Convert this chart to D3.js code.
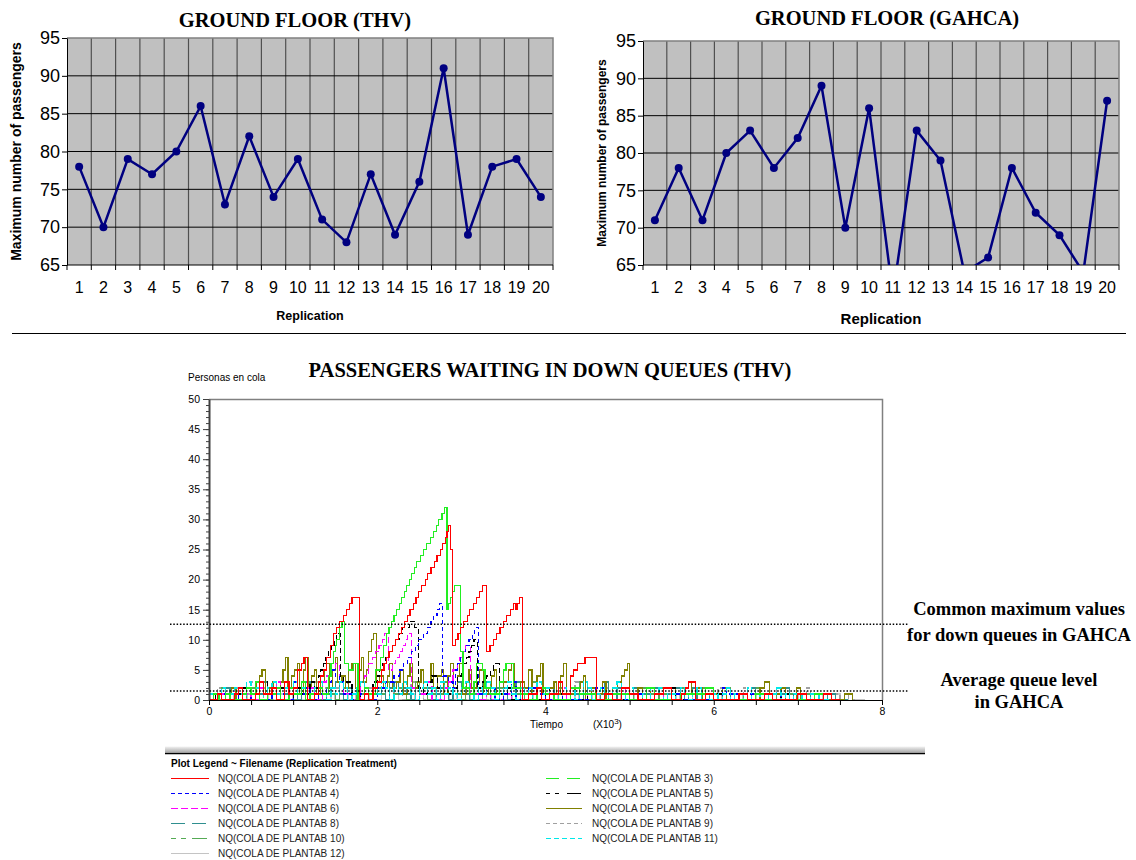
<!DOCTYPE html>
<html>
<head>
<meta charset="utf-8">
<script src="https://cdn.jsdelivr.net/npm/d3@7"></script>
<style>
body { margin: 0; background: #fff; }
</style>
</head>
<body>
<div class="svg-container"></div>
<script>
//top charts: maximum number of passengers per replication
const replications = [1,2,3,4,5,6,7,8,9,10,11,12,13,14,15,16,17,18,19,20];
const thvMax = [78,70,79,77,80,86,73,82,74,79,71,68,77,69,76,91,69,78,79,74];
const gahcaMax = [71,78,71,80,83,78,82,89,70,86,61,83,79,64,66,78,72,69,64,87];
const topYTicks = [65,70,75,80,85,90,95];

//bottom chart: queue length (personas en cola) vs tiempo (x10^3), step series as [tiempo, cola]
const nq2 = [[0,0],[0.1,1],[0.15,0],[0.3,1],[0.35,2],[0.4,0],[0.55,1],[0.6,3],[0.65,1],[0.75,2],[0.8,0],[0.9,3],[0.95,1],[1.0,2],[1.05,5],[1.1,6],[1.13,7],[1.17,0],[1.25,1],[1.3,3],[1.33,4],[1.36,5],[1.4,7],[1.44,9],[1.48,11],[1.52,12],[1.55,13],[1.6,14],[1.63,15],[1.67,16],[1.7,17],[1.79,0],[1.85,1],[1.9,0],[1.95,2],[2.0,3],[2.05,5],[2.08,6],[2.11,7],[2.14,8],[2.18,9],[2.22,10],[2.25,11],[2.29,12],[2.32,13],[2.36,14],[2.39,15],[2.43,16],[2.46,17],[2.49,18],[2.53,19],[2.57,20],[2.6,21],[2.64,22],[2.68,23],[2.71,24],[2.75,25],[2.78,26],[2.81,27],[2.83,28],[2.85,29],[2.87,25],[2.89,9],[2.93,10],[2.96,11],[2.99,12],[3.03,13],[3.07,14],[3.1,15],[3.14,16],[3.18,17],[3.22,18],[3.25,19],[3.3,8],[3.34,9],[3.38,10],[3.42,11],[3.46,12],[3.5,13],[3.54,14],[3.58,15],[3.62,16],[3.65,15],[3.67,16],[3.69,17],[3.73,0],[3.8,1],[3.9,2],[3.95,0],[4.05,1],[4.15,3],[4.2,1],[4.3,4],[4.33,5],[4.38,6],[4.47,7],[4.61,0],[4.7,1],[4.8,0],[4.9,2],[5.0,1],[5.1,0],[5.3,1],[5.4,2],[5.5,0],[5.62,1],[5.66,2],[5.7,3],[5.78,0],[5.9,1],[6.0,0],[6.3,1],[6.4,0],[6.6,1],[6.7,0],[7.0,1],[7.1,0],[7.3,1],[7.4,0],[7.5,0]];
const nq3 = [[0,0],[0.05,1],[0.12,0],[0.2,1],[0.25,0],[0.4,1],[0.45,2],[0.5,1],[0.55,3],[0.6,0],[0.7,1],[0.8,2],[0.85,0],[0.95,2],[1.0,1],[1.1,3],[1.15,0],[1.2,1],[1.3,2],[1.35,1],[1.42,4],[1.45,6],[1.48,8],[1.5,9],[1.52,10],[1.55,12],[1.58,13],[1.61,6],[1.66,5],[1.72,6],[1.77,0],[1.85,2],[1.9,1],[1.98,5],[2.04,7],[2.07,9],[2.11,11],[2.14,12],[2.17,13],[2.2,14],[2.23,15],[2.26,16],[2.29,17],[2.32,18],[2.35,19],[2.38,20],[2.41,21],[2.44,22],[2.47,23],[2.51,24],[2.55,25],[2.59,26],[2.63,27],[2.67,28],[2.7,29],[2.73,30],[2.77,31],[2.8,32],[2.83,15],[2.85,16],[2.87,17],[2.89,18],[2.92,19],[2.99,8],[3.02,2],[3.1,1],[3.15,3],[3.18,6],[3.25,5],[3.28,2],[3.35,1],[3.45,3],[3.5,5],[3.53,6],[3.62,2],[3.7,1],[3.8,0],[3.9,2],[4.0,1],[4.1,0],[4.3,2],[4.4,1],[4.6,0],[4.8,1],[5.0,0],[5.2,2],[5.3,0],[5.6,1],[5.9,2],[6.0,0],[6.5,1],[6.6,0],[7.2,1],[7.3,0]];
const nq4 = [[0,0],[0.1,1],[0.2,0],[0.35,2],[0.4,0],[0.5,1],[0.6,0],[0.75,2],[0.8,1],[0.9,0],[1.0,3],[1.05,1],[1.15,2],[1.2,0],[1.3,1],[1.4,2],[1.42,3],[1.46,5],[1.5,4],[1.55,3],[1.6,1],[1.7,0],[1.8,1],[1.9,0],[2.0,2],[2.1,3],[2.2,4],[2.26,5],[2.31,6],[2.36,7],[2.41,8],[2.45,9],[2.49,10],[2.55,11],[2.6,12],[2.64,13],[2.67,14],[2.71,15],[2.74,16],[2.78,4],[2.85,3],[2.9,2],[2.93,5],[2.95,6],[2.99,7],[3.02,8],[3.05,9],[3.09,10],[3.13,11],[3.16,12],[3.2,1],[3.3,2],[3.4,0],[3.5,1],[3.6,3],[3.65,0],[3.8,2],[3.9,1],[4.0,0],[4.2,1],[4.3,0],[4.6,2],[4.7,0],[5.1,1],[5.2,0],[5.5,1],[5.6,0],[6.1,2],[6.15,1],[6.5,0],[6.7,1],[6.8,0],[7.3,1],[7.4,0]];
const nq5 = [[0,0],[0.08,1],[0.15,0],[0.3,1],[0.4,2],[0.45,0],[0.55,1],[0.65,3],[0.7,1],[0.85,2],[0.9,0],[1.0,2],[1.1,1],[1.2,3],[1.25,2],[1.3,4],[1.33,5],[1.36,6],[1.39,7],[1.42,8],[1.45,9],[1.49,10],[1.52,11],[1.56,4],[1.6,3],[1.7,1],[1.8,0],[1.9,2],[1.95,3],[2.0,4],[2.03,5],[2.06,6],[2.1,7],[2.14,8],[2.18,9],[2.22,10],[2.26,11],[2.3,12],[2.38,13],[2.44,12],[2.49,2],[2.55,1],[2.6,3],[2.65,4],[2.72,2],[2.8,1],[2.9,2],[2.95,4],[3.0,5],[3.03,6],[3.06,7],[3.09,8],[3.12,9],[3.15,10],[3.19,2],[3.25,3],[3.3,4],[3.35,5],[3.38,6],[3.45,1],[3.55,2],[3.6,0],[3.7,1],[3.8,0],[4.0,2],[4.05,1],[4.3,0],[4.5,1],[4.6,0],[5.0,1],[5.1,0],[5.5,2],[5.55,0],[6.0,1],[6.1,0],[6.8,1],[6.9,0]];
const nq6 = [[0,0],[0.1,1],[0.2,0],[0.3,2],[0.35,1],[0.5,0],[0.6,2],[0.65,1],[0.8,3],[0.85,0],[1.0,1],[1.1,3],[1.15,2],[1.25,0],[1.35,3],[1.4,4],[1.45,5],[1.5,6],[1.55,3],[1.6,1],[1.7,0],[1.8,2],[1.85,4],[1.9,6],[1.94,7],[1.98,8],[2.02,9],[2.06,10],[2.09,11],[2.13,5],[2.18,6],[2.22,7],[2.26,8],[2.3,9],[2.34,10],[2.36,11],[2.41,2],[2.5,1],[2.6,3],[2.65,0],[2.8,2],[2.85,3],[2.9,5],[2.95,6],[2.98,7],[3.02,8],[3.05,9],[3.11,1],[3.2,0],[3.3,2],[3.35,0],[3.5,1],[3.6,0],[3.8,1],[3.9,0],[4.2,2],[4.25,0],[4.5,1],[4.55,0],[4.9,2],[4.95,0],[5.3,1],[5.4,0],[5.9,1],[6.0,0],[6.5,1],[6.55,0]];
const nq7 = [[0,0],[0.1,1],[0.2,0],[0.24,1],[0.27,2],[0.32,0],[0.4,1],[0.45,2],[0.5,1],[0.56,3],[0.6,4],[0.63,5],[0.67,1],[0.72,2],[0.76,3],[0.8,1],[0.85,3],[0.88,5],[0.91,7],[0.94,2],[0.98,4],[1.02,5],[1.05,6],[1.08,1],[1.12,5],[1.15,7],[1.18,2],[1.22,4],[1.25,5],[1.28,1],[1.33,3],[1.37,5],[1.4,6],[1.43,2],[1.47,5],[1.5,7],[1.53,3],[1.58,4],[1.62,2],[1.66,5],[1.7,6],[1.74,2],[1.78,5],[1.81,7],[1.84,3],[1.87,5],[1.9,8],[1.93,10],[1.96,11],[1.99,3],[2.03,4],[2.07,2],[2.12,4],[2.15,6],[2.18,2],[2.23,3],[2.27,5],[2.31,1],[2.36,4],[2.39,6],[2.42,2],[2.48,3],[2.52,5],[2.55,1],[2.6,3],[2.64,6],[2.67,2],[2.72,4],[2.76,5],[2.79,1],[2.84,4],[2.87,6],[2.91,2],[2.95,4],[2.98,6],[3.01,1],[3.06,3],[3.09,5],[3.12,2],[3.18,3],[3.22,5],[3.26,1],[3.32,2],[3.36,4],[3.39,5],[3.42,1],[3.5,3],[3.56,5],[3.6,6],[3.63,2],[3.7,3],[3.75,2],[3.8,5],[3.84,1],[3.9,4],[3.94,6],[3.97,1],[4.05,2],[4.1,3],[4.13,1],[4.18,4],[4.21,6],[4.25,1],[4.35,2],[4.42,3],[4.45,4],[4.48,0],[4.55,2],[4.6,1],[4.68,3],[4.72,0],[4.8,2],[4.86,3],[4.9,4],[4.94,5],[4.97,6],[5.0,1],[5.1,2],[5.15,0],[5.25,2],[5.3,1],[5.4,0],[5.5,2],[5.55,1],[5.66,2],[5.7,3],[5.74,1],[5.8,2],[5.86,0],[6.0,1],[6.1,2],[6.15,0],[6.3,1],[6.4,0],[6.55,2],[6.6,3],[6.66,1],[6.8,2],[6.85,0],[6.98,2],[7.03,0],[7.2,1],[7.3,0],[7.55,1],[7.65,0]];

//low level replications, one value every gridStep (x10^3) from tiempo 0
const gridStep = 0.05;
const nq8 = [0,1,1,0,2,1,0,1,2,2,1,0,1,3,2,1,0,2,1,1, 2,0,1,3,2,1,2,0,1,2,3,1,0,2,1,2,3,2,0,1, 1,2,0,2,3,1,2,1,0,2,1,3,2,0,1,2,1,0,2,3, 2,1,0,1,2,3,1,0,2,1,2,0,1,3,2,1,0,1,2,1, 0,2,1,3,1,0,2,1,0,1,2,2,0,1,3,1,0,2,1,0, 1,2,0,1,1,0,2,1,0,1,0,2,1,0,1,2,0,1,0,1, 0,1,2,0,1,0,1,1,0,2,0,1,0,1,0,0,1,2,0,1, 0,1,0,1,0,0,1,0,1,0,0,0];
const nq9 = [1,0,2,1,0,1,2,0,1,1,3,1,0,2,1,0,1,2,1,0, 1,2,1,0,2,3,1,2,0,1,2,1,3,0,1,2,1,0,2,1, 3,1,0,2,1,2,0,1,3,2,1,0,2,1,0,2,3,1,0,2, 1,0,2,1,3,2,0,1,2,1,0,2,1,3,1,0,2,1,0,1, 2,1,0,2,1,0,1,3,2,0,1,2,1,0,2,1,0,1,2,0, 1,0,2,1,0,1,2,0,1,0,1,2,0,1,0,2,1,0,1,0, 1,2,0,1,0,1,0,2,1,0,1,0,1,1,0,2,0,1,0,0, 1,0,2,1,0,1,0,1,0,1,0,0,1,0];
const nq10 = [0,1,0,2,1,1,0,2,1,0,2,1,3,1,0,1,2,0,1,2, 0,2,1,1,3,2,0,1,2,1,0,3,2,1,0,2,1,2,0,1, 2,1,3,0,1,2,1,0,2,3,1,2,0,1,2,1,3,0,2,1, 0,2,1,2,0,1,3,1,0,2,1,0,2,1,2,0,1,3,0,1, 2,0,1,2,1,0,2,1,3,0,1,2,0,1,1,0,2,1,0,2, 1,0,1,2,0,1,0,2,1,0,1,0,2,0,1,1,0,2,0,1, 0,1,0,2,1,0,1,0,0,1,2,0,1,0,1,0,2,0,1,0, 1,0,1,0,0,1,0,1,0,0];
const nq11 = [1,0,1,2,0,1,2,1,0,3,1,2,0,1,2,3,1,0,2,1, 3,1,2,0,1,2,3,1,0,2,1,3,2,0,1,2,3,1,0,2, 1,3,2,0,2,1,3,2,1,0,2,3,1,2,0,3,1,2,1,0, 2,3,1,0,2,1,3,2,0,1,2,3,1,0,2,1,2,0,3,1, 2,1,0,3,2,1,2,0,1,3,2,0,1,2,1,0,2,3,1,0, 2,1,0,1,2,0,1,2,0,1,1,0,2,1,0,1,2,0,1,0, 1,0,1,2,0,1,0,1,2,0,1,0,1,0,1,2,0,1,0,1, 0,1,0,1,0,1,0,0];
const nq12 = [0,0,1,0,0,1,0,0,0,1,0,0,1,1,0,0,0,1,0,0, 1,0,0,1,0,0,2,0,0,1,0,0,0,1,0,1,0,0,1,0, 0,1,0,0,1,0,0,0,1,0,1,0,0,2,0,0,1,0,0,1, 0,0,1,0,0,1,0,1,0,0,0,1,0,0,1,0,0,1,0,0, 1,0,0,1,0,0,0,1,0,0,1,0,0,1,0,0,0,1,0,0, 0,1,0,0,1,0,0,0,1,0,0,1,0,0,0,1,0,0,1,0, 0,0,1,0,0,0,1,0,0,1,0,0,0,1,0,0,1,0,0,0, 1,0,0,1,0,0,1,0,0,1,0,0,1,0,0,0];

const colaTicks = [0,5,10,15,20,25,30,35,40,45,50];
const tiempoTicks = [0,0.5,1,1.5,2,2.5,3,3.5,4,4.5,5,5.5,6,6.5,7,7.5,8];
const tiempoLabels = [0,2,4,6,8];
//dotted reference levels from GAHCA
const gahcaLevels = [12.6, 1.5];

//line styles per replication (legend dash, dash used in the plot)
const styles = {
    2: {color:'#ff0000', dash:null, plotDash:null},
    3: {color:'#22ee22', dash:'13,8', plotDash:null},
    4: {color:'#0000ff', dash:'4,3', plotDash:'4,3'},
    5: {color:'#000000', dash:'4,5,4,8,14,5', plotDash:'5,3'},
    6: {color:'#ff00ff', dash:'7,3', plotDash:'6,3'},
    7: {color:'#808000', dash:null, plotDash:null},
    8: {color:'#2f8f8f', dash:'14,7', plotDash:null},
    9: {color:'#a0a0a0', dash:'4,3', plotDash:'4,3'},
    10: {color:'#55aa55', dash:'5,5,5,6,15,5', plotDash:null},
    11: {color:'#00e8e8', dash:'5,3', plotDash:'6,2'},
    12: {color:'#c4c4c4', dash:null, plotDash:null}
};

const fromGrid = vals => vals.map((v,i) => [i*gridStep, v]).concat([[vals.length*gridStep, 0]]);

const series = [
    {id:12, pts: fromGrid(nq12)},
    {id:9, pts: fromGrid(nq9)},
    {id:10, pts: fromGrid(nq10)},
    {id:8, pts: fromGrid(nq8)},
    {id:7, pts: nq7},
    {id:6, pts: nq6},
    {id:5, pts: nq5},
    {id:4, pts: nq4},
    {id:11, pts: fromGrid(nq11)},
    {id:3, pts: nq3},
    {id:2, pts: nq2}
];

const width = 1136;
const height = 860;

const svg = d3.select('.svg-container')
    .append('svg')
    .attr('width', width)
    .attr('height', height);

const sans = 'Arial, "Liberation Sans", sans-serif';
const serif = '"Times New Roman", "Liberation Serif", serif';

//draws one of the two upper charts
function drawTop(opt) {
    const x = d3.scaleBand().domain(replications).range([opt.x0, opt.x1]);
    const y = d3.scaleLinear().domain([65, 95]).range([opt.y1, opt.y0]);
    const g = svg.append('g');

    g.append('rect')
        .attr('x', opt.x0).attr('y', opt.y0)
        .attr('width', opt.x1-opt.x0).attr('height', opt.y1-opt.y0)
        .attr('fill', '#c0c0c0');

    g.selectAll('.vgrid')
        .data(replications.slice(1))
        .join('line')
        .attr('x1', d => x(d)).attr('x2', d => x(d))
        .attr('y1', opt.y0).attr('y2', opt.y1)
        .attr('stroke', '#505050')
        .attr('stroke-width', 1.2);

    g.selectAll('.hgrid')
        .data(topYTicks.slice(1, -1))
        .join('line')
        .attr('x1', opt.x0).attr('x2', opt.x1)
        .attr('y1', d => y(d)).attr('y2', d => y(d))
        .attr('stroke', '#000')
        .attr('stroke-width', 1);

    //frame top and right
    g.append('path')
        .attr('d', `M${opt.x0},${opt.y0}H${opt.x1}V${opt.y1}`)
        .attr('fill', 'none')
        .attr('stroke', '#808080')
        .attr('stroke-width', 1.5);

    //left axis
    g.append('g')
        .attr('transform', `translate(${opt.x0},0)`)
        .call(d3.axisLeft(y).tickValues(topYTicks).tickSize(5).tickSizeOuter(0).tickPadding(2))
        .call(a => a.selectAll('text').attr('font-family', sans).attr('font-size', opt.yFont).attr('fill', '#000'));

    //bottom axis, labels at centres, ticks at band edges
    g.append('g')
        .attr('transform', `translate(0,${opt.y1})`)
        .call(d3.axisBottom(x).tickSize(0).tickPadding(opt.xPad))
        .call(a => a.select('.domain').remove())
        .call(a => a.selectAll('text').attr('font-family', sans).attr('font-size', opt.xFont).attr('fill', '#000'));
    g.append('line')
        .attr('x1', opt.x0).attr('x2', opt.x1)
        .attr('y1', opt.y1).attr('y2', opt.y1)
        .attr('stroke', '#000');
    g.selectAll('.xtick')
        .data(replications)
        .join('line')
        .attr('x1', d => x(d)).attr('x2', d => x(d))
        .attr('y1', opt.y1).attr('y2', opt.y1+5)
        .attr('stroke', '#000');
    g.append('line')
        .attr('x1', opt.x1).attr('x2', opt.x1)
        .attr('y1', opt.y1).attr('y2', opt.y1+5)
        .attr('stroke', '#000');

    //clip for values out of range
    svg.append('clipPath').attr('id', opt.id+'-clip')
        .append('rect')
        .attr('x', opt.x0).attr('y', opt.y0-6)
        .attr('width', opt.x1-opt.x0).attr('height', opt.y1-opt.y0+6);

    const pts = replications.map((r, i) => ({rep: r, v: opt.values[i]}));
    const cx = d => x(d.rep) + x.bandwidth()/2;

    const plot = g.append('g').attr('clip-path', `url(#${opt.id}-clip)`);
    plot.append('path')
        .datum(pts)
        .attr('d', d3.line().x(cx).y(d => y(d.v)))
        .attr('fill', 'none')
        .attr('stroke', '#000080')
        .attr('stroke-width', 2.5);
    plot.selectAll('circle')
        .data(pts)
        .join('circle')
        .attr('cx', cx)
        .attr('cy', d => y(d.v))
        .attr('r', 4)
        .attr('fill', '#000080');

    //titles
    g.append('text')
        .attr('x', opt.titleX).attr('y', opt.titleY)
        .attr('text-anchor', 'middle')
        .attr('font-family', serif).attr('font-weight', 'bold').attr('font-size', 20.5)
        .text(opt.title);
    g.append('text')
        .attr('x', (opt.x0+opt.x1)/2).attr('y', opt.xTitleY)
        .attr('text-anchor', 'middle')
        .attr('font-family', sans).attr('font-weight', 'bold').attr('font-size', opt.xTitleFont)
        .text('Replication');
    g.append('text')
        .attr('transform', `translate(${opt.yTitleX},${(opt.y0+opt.y1)/2}) rotate(-90)`)
        .attr('text-anchor', 'middle')
        .attr('font-family', sans).attr('font-weight', 'bold').attr('font-size', opt.yTitleFont)
        .text('Maximum number of passengers');
}

drawTop({id:'thv', values: thvMax, x0:67, x1:553, y0:38, y1:265, yFont:18, xFont:16, xPad:17,
    title:'GROUND FLOOR (THV)', titleX:295, titleY:27, xTitleY:320, xTitleFont:12.5, yTitleX:21, yTitleFont:14});
drawTop({id:'gahca', values: gahcaMax, x0:643, x1:1119, y0:41, y1:265, yFont:18, xFont:16, xPad:17,
    title:'GROUND FLOOR (GAHCA)', titleX:887, titleY:25, xTitleY:324, xTitleFont:15, yTitleX:606, yTitleFont:12});

//separator
svg.append('line')
    .attr('x1', 12).attr('x2', 1126)
    .attr('y1', 333.5).attr('y2', 333.5)
    .attr('stroke', '#000');

//---- bottom chart
const plot = {x0:209, x1:882, y0:399, y1:700};
const xT = d3.scaleLinear().domain([0, 8]).range([plot.x0, plot.x1]);
const yC = d3.scaleLinear().domain([0, 50]).range([plot.y1, plot.y0]);

svg.append('text')
    .attr('x', 550).attr('y', 377)
    .attr('text-anchor', 'middle')
    .attr('font-family', serif).attr('font-weight', 'bold').attr('font-size', 20.5)
    .text('PASSENGERS WAITING IN DOWN QUEUES (THV)');

svg.append('text')
    .attr('x', 188).attr('y', 381)
    .attr('font-family', sans).attr('font-size', 10)
    .text('Personas en cola');

//frame
svg.append('path')
    .attr('d', `M${plot.x0},${plot.y0+0.5}H${plot.x1+0.5}V${plot.y1}`)
    .attr('fill', 'none')
    .attr('stroke', '#808080')
    .attr('stroke-width', 1.5);

svg.append('clipPath').attr('id', 'queue-clip')
    .append('rect')
    .attr('x', plot.x0).attr('y', plot.y0)
    .attr('width', plot.x1-plot.x0).attr('height', plot.y1-plot.y0+1);

const stepLine = d3.line()
    .x(d => xT(d[0]))
    .y(d => yC(d[1]))
    .curve(d3.curveStepAfter);

const lines = svg.append('g').attr('clip-path', 'url(#queue-clip)');
lines.selectAll('path')
    .data(series)
    .join('path')
    .attr('d', d => stepLine(d.pts))
    .attr('fill', 'none')
    .attr('stroke', d => styles[d.id].color)
    .attr('stroke-width', d => d.id === 12 ? 1.5 : 1.2)
    .attr('stroke-dasharray', d => styles[d.id].plotDash)
    .attr('shape-rendering', 'crispEdges');

//y axis: minor ticks then labelled majors
svg.append('g')
    .attr('transform', `translate(${plot.x0},0)`)
    .call(d3.axisLeft(yC).tickValues(d3.range(0, 51)).tickSize(3).tickSizeOuter(0).tickFormat(''))
    .call(a => a.select('.domain').remove())
    .call(a => a.selectAll('line').attr('stroke', '#404040'));
svg.append('g')
    .attr('transform', `translate(${plot.x0},0)`)
    .call(d3.axisLeft(yC).tickValues(colaTicks).tickSize(6).tickSizeOuter(0).tickPadding(3))
    .call(a => a.select('.domain').attr('stroke', '#404040').attr('stroke-width', 2))
    .call(a => a.selectAll('line').attr('stroke', '#404040'))
    .call(a => a.selectAll('text').attr('font-family', sans).attr('font-size', 10.5).attr('fill', '#000'));

//x axis
svg.append('g')
    .attr('transform', `translate(0,${plot.y1})`)
    .call(d3.axisBottom(xT).tickValues(tiempoTicks).tickSize(5).tickSizeOuter(0)
        .tickFormat(d => tiempoLabels.includes(d) ? d : ''))
    .call(a => a.select('.domain').attr('stroke', '#000'))
    .call(a => a.selectAll('text').attr('font-family', sans).attr('font-size', 10.5).attr('fill', '#000'));

svg.append('text')
    .attr('x', 530).attr('y', 728)
    .attr('font-family', sans).attr('font-size', 10)
    .text('Tiempo');
const xUnit = svg.append('text')
    .attr('x', 593).attr('y', 728)
    .attr('font-family', sans).attr('font-size', 10);
xUnit.append('tspan').text('(X10');
xUnit.append('tspan').attr('dy', -4).attr('font-size', 8).text('3');
xUnit.append('tspan').attr('dy', 4).text(')');

//dotted GAHCA reference lines
svg.selectAll('.ref')
    .data(gahcaLevels)
    .join('line')
    .attr('x1', 170).attr('x2', 908)
    .attr('y1', d => yC(d)).attr('y2', d => yC(d))
    .attr('stroke', '#000')
    .attr('stroke-width', 1.5)
    .attr('stroke-dasharray', '1.5,1.8');

//annotations
const notes = [
    {text:'Common maximum values', y:615},
    {text:'for down queues in GAHCA', y:641},
    {text:'Average queue level', y:686},
    {text:'in GAHCA', y:708}
];
svg.selectAll('.note')
    .data(notes)
    .join('text')
    .attr('x', 1019).attr('y', d => d.y)
    .attr('text-anchor', 'middle')
    .attr('font-family', serif).attr('font-weight', 'bold').attr('font-size', 18.5)
    .text(d => d.text);

//legend
const grad = svg.append('defs').append('linearGradient')
    .attr('id', 'sep-grad').attr('x1', 0).attr('x2', 0).attr('y1', 0).attr('y2', 1);
grad.append('stop').attr('offset', '0%').attr('stop-color', '#f2f2f2');
grad.append('stop').attr('offset', '100%').attr('stop-color', '#a8a8a8');
svg.append('rect')
    .attr('x', 165).attr('y', 746.5).attr('width', 760).attr('height', 6)
    .attr('fill', 'url(#sep-grad)');
svg.append('line')
    .attr('x1', 165).attr('x2', 925)
    .attr('y1', 753.5).attr('y2', 753.5)
    .attr('stroke', '#000').attr('stroke-width', 1.5);

svg.append('text')
    .attr('x', 171).attr('y', 766.5)
    .attr('font-family', sans).attr('font-weight', 'bold').attr('font-size', 10)
    .text('Plot Legend ~ Filename (Replication Treatment)');

const legendIds = [2,3,4,5,6,7,8,9,10,11,12];
const legend = svg.selectAll('.leg')
    .data(legendIds)
    .join('g')
    .attr('transform', (d, i) => `translate(${i%2 === 0 ? 171 : 546},${778.5 + Math.floor(i/2)*15})`);
legend.append('line')
    .attr('x1', 0).attr('x2', (d, i) => i%2 === 0 ? 38 : 36)
    .attr('stroke', d => styles[d].color)
    .attr('stroke-dasharray', d => styles[d].dash)
    .attr('stroke-width', 1.2);
legend.append('text')
    .attr('x', (d, i) => i%2 === 0 ? 47 : 46)
    .attr('y', 3.5)
    .attr('font-family', sans).attr('font-size', 10)
    .attr('fill', '#222')
    .text(d => `NQ(COLA DE PLANTAB ${d})`);
</script>
</body>
</html>
